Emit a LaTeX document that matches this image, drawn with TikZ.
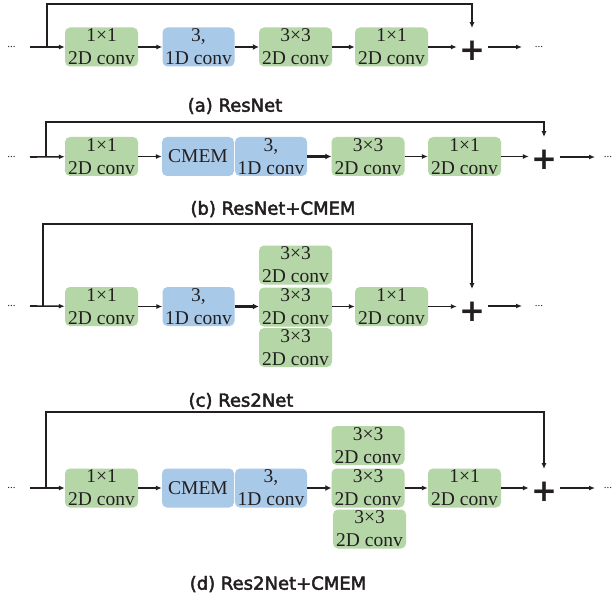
\documentclass[tikz,border=0pt]{standalone}
\usepackage{fontspec}
\setmainfont{Liberation Serif}
\newfontfamily\titlefont[FakeBold=2.5]{DejaVu Sans}
\newfontfamily\plusfont{DejaVu Sans}
\usetikzlibrary{arrows.meta}
\definecolor{gbox}{RGB}{181,215,167}
\definecolor{bbox}{RGB}{169,201,233}
\definecolor{ink}{RGB}{35,31,32}
\begin{document}
\begin{tikzpicture}[x=1pt,y=-1pt,
  blk/.style={rounded corners=5pt, minimum width=73pt, minimum height=39pt, inner sep=0pt, align=center, font=\fontsize{19.5}{23}\selectfont, text=ink},
  gblk/.style={blk, fill=gbox},
  bblk/.style={blk, fill=bbox, minimum width=72pt},
  ar/.style={draw=ink, line width=1.6pt, -{Latex[length=6pt,width=5pt]}},
  thk/.style={draw=ink, line width=2.8pt, -{Latex[length=6pt,width=6pt]}},
  skp/.style={draw=ink, line width=2pt, -{Latex[length=6pt,width=5pt]}},
  plusn/.style={font=\plusfont\bfseries\fontsize{31}{31}\selectfont, inner sep=0pt, text=ink},
  dotn/.style={font=\fontsize{11}{11}\selectfont, inner sep=0pt, text=ink},
  ttl/.style={font=\titlefont\fontsize{18}{21}\selectfont, text=ink},
]
\useasboundingbox[fill=white] (0,0) rectangle (613,596);

% ---------------- (a) ResNet ----------------
\node[dotn] (al) at (11.5,47) {...};
\coordinate (as) at (30,47);
\coordinate (abr) at (47,47);
\node[gblk] (a1) at (101.5,47) {1×1\\2D conv};
\node[bblk] (a2) at (198.5,47) {3,\\1D conv};
\node[gblk] (a3) at (295.5,47) {3×3\\2D conv};
\node[gblk] (a4) at (391.5,47) {1×1\\2D conv};
\node[plusn] (pa) at (472,51) {+};
\coordinate (atop) at (472,4);
\coordinate (aout) at (522,47);
\node[dotn] (ar2) at (539,47) {...};
\draw[ar] (as) -- (a1);
\draw[ar] (a1) -- (a2);
\draw[thk] (a2) -- (a3);
\draw[ar] (a3) -- (a4);
\draw[ar, shorten >=2pt] (a4) -- (a4 -| pa.west);
\draw[skp, shorten >=13pt] (abr) |- (atop) -- (pa.north);
\draw[ar, shorten <=3pt] (pa.east |- aout) -- (aout);
\node[ttl] (ta) at (235,106) {(a) ResNet};

% ---------------- (b) ResNet+CMEM ----------------
\node[dotn] (bl) at (11.5,157) {...};
\coordinate (bs) at (30,157);
\coordinate (bbr) at (46,157);
\node[gblk] (b1) at (101.5,156.5) {1×1\\2D conv};
\node[bblk] (b2) at (198,156.5) {CMEM};
\node[bblk] (b3) at (271,156.5) {3,\\1D conv};
\node[gblk] (b4) at (368,156.5) {3×3\\2D conv};
\node[gblk] (b5) at (464.5,156.5) {1×1\\2D conv};
\node[plusn] (pb) at (544,160) {+};
\coordinate (btop) at (544,122);
\coordinate (bout) at (595,157);
\node[dotn] (br2) at (608,157) {...};
\draw[ar] (bs) -- (b1);
\draw[ar] (b1) -- (b2);
\draw[thk] (b3) -- (b4);
\draw[ar] (b4) -- (b5);
\draw[ar, shorten >=2pt] (b5) -- (b5 -| pb.west);
\draw[skp, shorten >=13pt] (bbr) |- (btop) -- (pb.north);
\draw[ar, shorten <=3pt] (pb.east |- bout) -- (bout);
\node[ttl] (tb) at (273,209) {(b) ResNet+CMEM};

% ---------------- (c) Res2Net ----------------
\node[dotn] (cl) at (11.5,306) {...};
\coordinate (cs) at (30,306);
\coordinate (cbr) at (43,306);
\node[gblk] (c1) at (101.5,306.5) {1×1\\2D conv};
\node[bblk] (c2) at (198.5,306.5) {3,\\1D conv};
\node[gblk] (c3a) at (295.5,265) {3×3\\2D conv};
\node[gblk] (c3b) at (295.5,307) {3×3\\2D conv};
\node[gblk] (c3c) at (295.5,347.5) {3×3\\2D conv};
\node[gblk] (c4) at (391.5,306.5) {1×1\\2D conv};
\node[plusn] (pc) at (472,312) {+};
\coordinate (ctop) at (472,224);
\coordinate (cout) at (522,306);
\node[dotn] (cr2) at (539,306) {...};
\draw[ar] (cs) -- (c1);
\draw[ar] (c1) -- (c2);
\draw[thk] (c2) -- (c2 -| c3b.west);
\draw[ar] (c4 -| c3b.east) -- (c4);
\draw[ar, shorten >=2pt] (c4) -- (c4 -| pc.west);
\draw[skp, shorten >=13pt] (cbr) |- (ctop) -- (pc.north);
\draw[ar, shorten <=3pt] (pc.east |- cout) -- (cout);
\node[ttl] (tc) at (241,401) {(c) Res2Net};

% ---------------- (d) Res2Net+CMEM ----------------
\node[dotn] (dl) at (11.5,488) {...};
\coordinate (ds) at (30,488);
\coordinate (dbr) at (46,488);
\node[gblk] (d1) at (101.5,488) {1×1\\2D conv};
\node[bblk] (d2) at (198,488) {CMEM};
\node[bblk] (d3) at (271,488) {3,\\1D conv};
\node[gblk] (d4a) at (368,445.5) {3×3\\2D conv};
\node[gblk] (d4b) at (368,488) {3×3\\2D conv};
\node[gblk] (d4c) at (369.5,529) {3×3\\2D conv};
\node[gblk] (d5) at (464.5,488) {1×1\\2D conv};
\node[plusn] (pd) at (544,492) {+};
\coordinate (dtop) at (544,412);
\coordinate (dout) at (595,488);
\node[dotn] (dr2) at (608,488) {...};
\draw[ar] (ds) -- (d1);
\draw[ar] (d1) -- (d2);
\draw[thk] (d3) -- (d4b);
\draw[ar] (d4b) -- (d5);
\draw[ar, shorten >=2pt] (d5) -- (d5 -| pd.west);
\draw[skp, shorten >=13pt] (dbr) |- (dtop) -- (pd.north);
\draw[ar, shorten <=3pt] (pd.east |- dout) -- (dout);
\node[ttl] (td) at (278,584) {(d) Res2Net+CMEM};
\end{tikzpicture}
\end{document}
